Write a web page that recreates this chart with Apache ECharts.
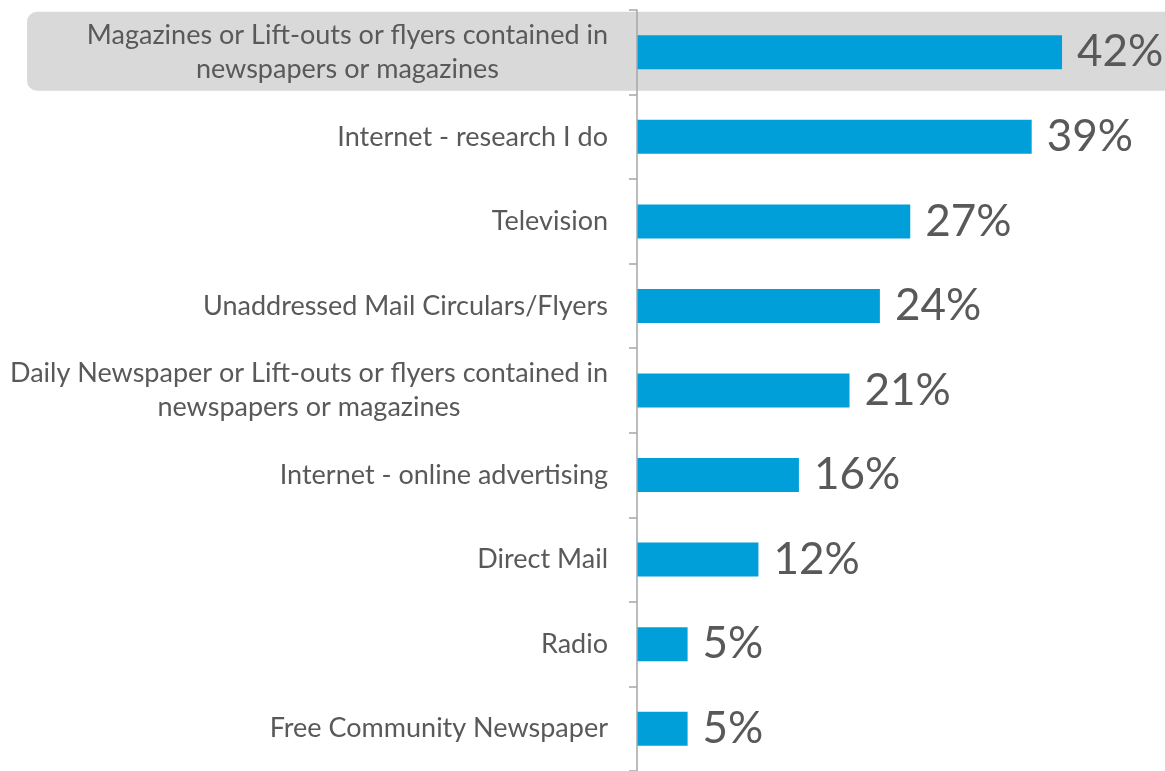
<!DOCTYPE html>
<html>
<head>
<meta charset="utf-8">
<script src="https://cdn.jsdelivr.net/npm/echarts@6/dist/echarts.min.js"></script>
<style>
  html, body { margin: 0; padding: 0; background: #ffffff; }
  #chart { width: 1165px; height: 771px; }
</style>
</head>
<body>
<div id="chart"></div>
<script>
// Media sources, top to bottom
const categories = [
  'Magazines or Lift-outs or flyers contained in\nnewspapers or magazines',
  'Internet - research I do',
  'Television',
  'Unaddressed Mail Circulars/Flyers',
  'Daily Newspaper or Lift-outs or flyers contained in\nnewspapers or magazines',
  'Internet - online advertising',
  'Direct Mail',
  'Radio',
  'Free Community Newspaper'
];
// Share of respondents (%)
const shares = [42, 39, 27, 24, 21, 16, 12, 5, 5];
// Row drawn with a highlight band behind it
const highlighted = [categories[0]];

const TEXT = '#595959';
const FONT = 'Lato, "Open Sans", sans-serif';

const chart = echarts.init(document.getElementById('chart'));

chart.setOption({
  animation: false,
  backgroundColor: '#ffffff',
  grid: { left: 637, right: 22, top: 10, bottom: 0, containLabel: false },
  xAxis: {
    type: 'value',
    min: 0,
    max: 50,
    show: false
  },
  yAxis: {
    type: 'category',
    data: categories,
    inverse: true,
    axisLine: { show: true, lineStyle: { color: '#a6a6a6', width: 1.5 } },
    axisTick: { show: true, length: 8, lineStyle: { color: '#a6a6a6', width: 1.5 } },
    axisLabel: {
      margin: 29,
      formatter: v => '{c|' + v + '}',
      rich: {
        c: { align: 'center', color: TEXT, fontFamily: FONT, fontSize: 27, lineHeight: 34 }
      }
    },
    splitLine: { show: false },
    z: 5
  },
  series: [{
    type: 'bar',
    data: shares,
    barWidth: 34,
    itemStyle: { color: '#009fda' },
    label: {
      show: true,
      position: 'right',
      distance: 15,
      formatter: p => p.value + '%',
      color: TEXT,
      fontFamily: FONT,
      fontSize: 44
    }
  }]
});

// Rounded highlight band behind the emphasised row, placed from the category axis
function drawHighlight() {
  const bands = highlighted.map(cat => {
    const cy = chart.convertToPixel({ yAxisIndex: 0 }, cat);
    const h = 79;
    return {
      type: 'rect',
      z: -1,
      silent: true,
      shape: { x: 27, y: cy - h / 2 - 1, width: 1165, height: h, r: 10 },
      style: { fill: '#d9d9d9' }
    };
  });
  chart.setOption({ graphic: bands });
}
drawHighlight();
</script>
</body>
</html>
